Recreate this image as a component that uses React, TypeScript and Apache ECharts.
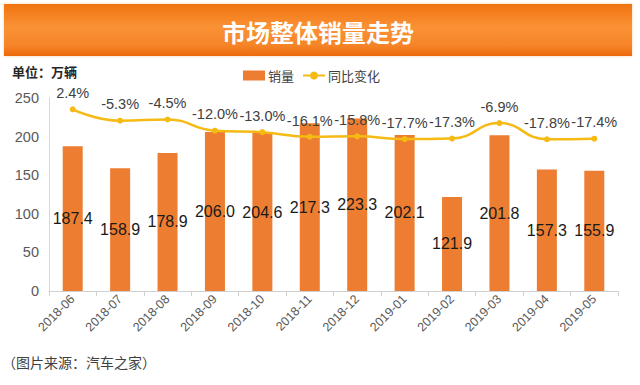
import React, { useEffect, useRef } from "react";
import * as echarts from "echarts";

const categories = ["2018-06","2018-07","2018-08","2018-09","2018-10","2018-11","2018-12","2019-01","2019-02","2019-03","2019-04","2019-05"];
const sales = [187.4,158.9,178.9,206.0,204.6,217.3,223.3,202.1,121.9,201.8,157.3,155.9];
const yoy = [2.4,-5.3,-4.5,-12.0,-13.0,-16.1,-15.8,-17.7,-17.3,-6.9,-17.8,-17.4];
const yTicks = [0,50,100,150,200,250];

export default function App() {
  const ref = useRef<HTMLDivElement>(null);
  useEffect(() => {
    if (!ref.current) return;
    const chart = echarts.init(ref.current, null, { renderer: "svg" });
    chart.setOption({
      animation: false,
      backgroundColor: "#ffffff",
      textStyle: { fontFamily: "'Liberation Sans', Arial, 'Noto Sans CJK SC', sans-serif" },
      graphic: [
        {
          type: "rect",
          shape: { x: 4, y: 4, width: 628, height: 52 },
          style: {
            fill: new echarts.graphic.LinearGradient(0, 0, 0, 1, [
              { offset: 0, color: "#F07310" },
              { offset: 0.45, color: "#FA9236" },
              { offset: 0.8, color: "#F68428" },
              { offset: 1, color: "#EC6A0A" },
            ]),
            shadowColor: "rgba(240,120,30,0.35)",
            shadowBlur: 3,
          },
        },
        {
          type: "text",
          x: 318,
          y: 31,
          style: {
            text: "市场整体销量走势",
            fill: "#ffffff",
            font: "bold 24px 'Noto Sans CJK SC', sans-serif",
            textAlign: "center",
            textVerticalAlign: "middle",
          },
        },
        {
          type: "text",
          x: 12,
          y: 71,
          style: {
            text: "单位：万辆",
            fill: "#262626",
            font: "bold 13px 'Noto Sans CJK SC', sans-serif",
            textVerticalAlign: "middle",
          },
        },
        {
          type: "text",
          x: 2,
          y: 362,
          style: {
            text: "（图片来源：汽车之家）",
            fill: "#404040",
            font: "14px 'Noto Sans CJK SC', sans-serif",
            textVerticalAlign: "middle",
          },
        },
      ],
      legend: {
        left: 238,
        top: 64,
        itemWidth: 22,
        itemHeight: 10,
        itemGap: 8,
        textStyle: { fontSize: 13, color: "#404040", fontFamily: "'Noto Sans CJK SC', sans-serif", padding: [0, 0, 0, -2] },
        data: [
          { name: "销量", icon: "rect" },
          { name: "同比变化" },
        ],
      },
      grid: { left: 49, right: 22, top: 98, bottom: 94, containLabel: false },
      xAxis: {
        type: "category",
        data: categories,
        axisLine: { lineStyle: { color: "#D0D0D0", width: 1 } },
        axisTick: { show: true, length: 5, lineStyle: { color: "#D0D0D0" } },
        axisLabel: { rotate: 45, fontSize: 12.5, color: "#595959", margin: 6 },
      },
      yAxis: [
        {
          type: "value",
          min: 0,
          max: 250,
          interval: 50,
          axisLine: { show: true, lineStyle: { color: "#D9D9D9" } },
          axisTick: { show: false },
          splitLine: { show: false },
          axisLabel: {
            fontSize: 14.5,
            color: "#595959",
            margin: 10,
            formatter: (v: number) => (yTicks.includes(v) ? String(v) : ""),
          },
        },
        {
          type: "value",
          min: -120,
          max: 10,
          show: false,
          splitLine: { show: false },
        },
      ],
      series: [
        {
          name: "销量",
          type: "bar",
          data: sales,
          barWidth: 20,
          itemStyle: { color: "#ED7D31" },
          label: {
            show: true,
            position: "inside",
            fontSize: 16,
            color: "#1a1a1a",
            formatter: (p: any) => p.value.toFixed(1),
          },
        },
        {
          name: "同比变化",
          type: "line",
          yAxisIndex: 1,
          data: yoy,
          smooth: true,
          symbol: "circle",
          symbolSize: 6,
          lineStyle: { color: "#F5BA14", width: 2.5 },
          itemStyle: { color: "#F5BA14" },
          label: {
            show: true,
            position: "top",
            distance: 6,
            fontSize: 14.5,
            color: "#404040",
            formatter: (p: any) => p.value.toFixed(1) + "%",
          },
        },
      ],
    });
    return () => chart.dispose();
  }, []);
  return <div ref={ref} style={{ position: "fixed", left: 0, top: 0, width: 640, height: 385 }} />;
}
